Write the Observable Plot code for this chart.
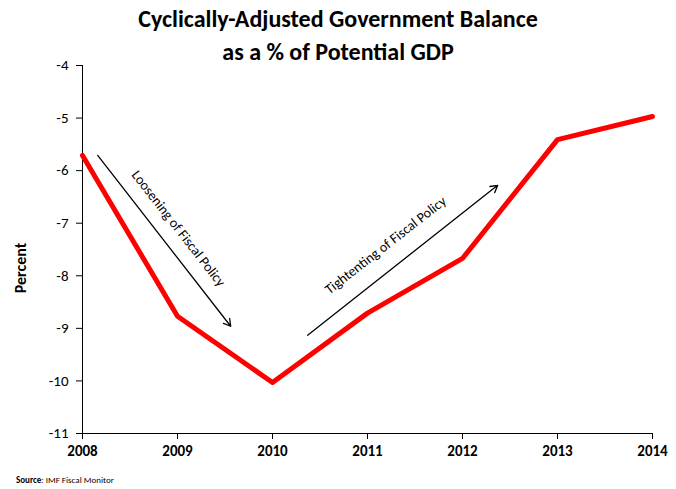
<!DOCTYPE html>
<html><head><meta charset="utf-8">
<script src="https://cdn.jsdelivr.net/npm/d3@7"></script>
<script src="https://cdn.jsdelivr.net/npm/@observablehq/plot@0.6"></script>
<style>
body{margin:0;background:#fff;font-family:Carlito,"Open Sans",Lato,sans-serif;}
#wrap{width:676px;height:489px;position:relative;}
#title{height:50px;text-align:center;font-weight:bold;font-size:24px;line-height:33px;padding-top:2px;box-sizing:border-box;color:#000;overflow:visible;}
#src{position:absolute;left:16px;top:474px;font-size:9px;}
</style></head><body>
<div id="wrap">
<div id="title">Cyclically-Adjusted Government Balance<br>as a % of Potential GDP</div>
<div id="chart"></div>
<div id="src"><b>Source</b>: IMF Fiscal Monitor</div>
</div>
<script>
const years = [2008, 2009, 2010, 2011, 2012, 2013, 2014];
const balance = [-5.71, -8.77, -10.03, -8.71, -7.67, -5.41, -4.97];
const yTicks = [-11, -10, -9, -8, -7, -6, -5, -4];
const arrows = [
  {x1: 2008.16, y1: -5.71, x2: 2009.56, y2: -8.96},
  {x1: 2010.37, y1: -9.13, x2: 2012.37, y2: -6.28}
];
const labels = [
  {x: 2009.01, y: -7.10, text: "Loosening of Fiscal Policy", rotate: 52},
  {x: 2011.19, y: -7.42, text: "Tightenting of Fiscal Policy", rotate: -38}
];
const data = years.map((y, i) => ({year: y, value: balance[i]}));
const chart = Plot.plot({
  width: 676, height: 420,
  marginLeft: 82, marginRight: 24, marginTop: 15, marginBottom: 37,
  style: {fontFamily: "Carlito, 'Open Sans', sans-serif", fontSize: "15px", color: "#000", overflow: "visible"},
  x: {domain: [2008, 2014], label: null},
  y: {domain: [-11, -4], label: null},
  marks: [
    Plot.axisX({ticks: years, tickFormat: d => String(d), fontWeight: "bold", fontSize: 15, label: null, tickSize: 6, tickPadding: 6}),
    Plot.axisY({ticks: yTicks, tickFormat: d => String(d), fontSize: 15, label: null, tickSize: 6, tickPadding: 8}),
    Plot.ruleX([2008], {stroke: "#000"}),
    Plot.ruleY([-11], {stroke: "#000"}),
    Plot.line(data, {x: "year", y: "value", stroke: "#ff0000", strokeWidth: 5}),
    Plot.arrow(arrows, {x1: "x1", y1: "y1", x2: "x2", y2: "y2", stroke: "#000", strokeWidth: 1.3, headLength: 9}),
    Plot.text(labels, {x: "x", y: "y", text: "text", rotate: "rotate", fontSize: 14, fill: "#000"})
  ]
});
document.getElementById("chart").appendChild(chart);
const svg = d3.select(chart);
svg.append("text").attr("transform", "translate(26,218) rotate(-90)").attr("text-anchor","middle")
  .style("font-weight","bold").style("font-size","16px").text("Percent");
</script>
</body></html>
